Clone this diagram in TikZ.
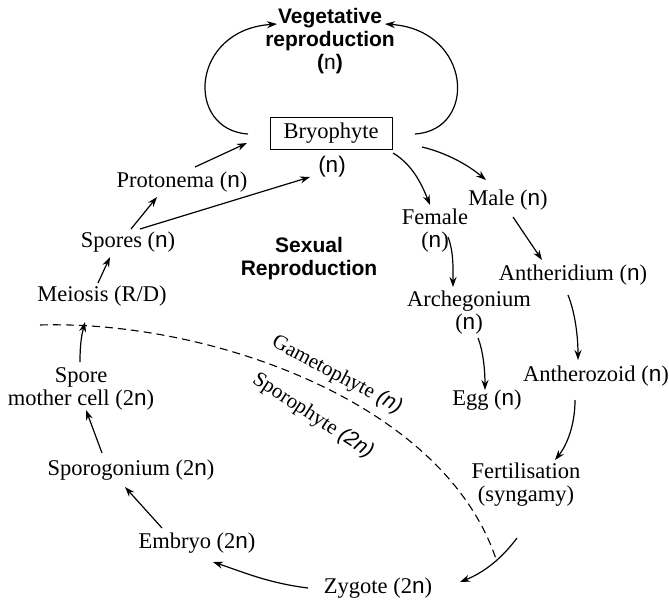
\documentclass[tikz,border=0pt]{standalone}
\usepackage{fontspec}
\setmainfont{Liberation Serif}
\newfontfamily\sansf{Liberation Sans}
\usetikzlibrary{arrows.meta}
\newcommand{\Nsym}{{\sansf n}}
\begin{document}
\begin{tikzpicture}[x=1pt,y=-1pt,
  every node/.style={inner sep=0pt},
  lbl/.style={font=\fontsize{22.5}{23}\selectfont, align=center},
  boldlbl/.style={font=\sansf\bfseries\fontsize{21}{23}\selectfont, align=center},
  rot/.style={font=\fontsize{21}{23}\selectfont},
  arr/.style={-{Stealth[length=10pt,width=7pt]}, line width=1.2pt},
  cut/.style={dash pattern=on 8pt off 5pt, line width=1.1pt}]
\useasboundingbox (0,0) rectangle (669,603);

\node[boldlbl] (veg) at (330,41) {Vegetative\\reproduction\\({\mdseries n})};
\node[lbl, draw, line width=1pt, minimum width=122pt, minimum height=32pt] (bryo) at (331,133) {Bryophyte};
\node[lbl] (bn) at (332,167) {{\sansf(n)}};
\node[lbl] (proto) at (182,182) {Protonema (\Nsym)};
\node[lbl] (spores) at (128,242) {Spores (\Nsym)};
\node[lbl] (meiosis) at (102,296) {Meiosis (R/D)};
\node[lbl] (smc) at (81,389) {Spore\\mother cell (2\Nsym)};
\node[lbl] (sporog) at (131,470) {Sporogonium (2\Nsym)};
\node[lbl] (embryo) at (197,543) {Embryo (2\Nsym)};
\node[lbl] (zygote) at (378,588) {Zygote (2\Nsym)};
\node[lbl] (fert) at (526,485) {Fertilisation\\(syngamy)};
\node[lbl] (anthz) at (596,376) {Antherozoid (\Nsym)};
\node[lbl] (egg) at (487,400) {Egg (\Nsym)};
\node[lbl] (arch) at (469,313) {Archegonium\\(\Nsym)};
\node[lbl] (female) at (435,231) {Female\\(\Nsym)};
\node[lbl] (male) at (508,200) {Male (\Nsym)};
\node[lbl] (anthd) at (573,275) {Antheridium (\Nsym)};
\node[boldlbl] (sexual) at (309,259) {Sexual\\Reproduction};
\node[rot, rotate=-28] (game) at (337,375) {Gametophyte {\sansf\itshape(n)}};
\node[rot, rotate=-33] (sporo) at (313,416) {Sporophyte {\sansf\itshape(2n)}};

% vegetative loops
\draw[arr] ([shift={(-83,1)}]bryo.center) .. controls +(-63,-4) and +(-87,6) .. ([shift={(-53,-17)}]veg.center);
\draw[arr] ([shift={(84,1)}]bryo.center) .. controls +(63,-4) and +(87,6) .. ([shift={(55,-17)}]veg.center);

% left side
\draw[arr] ([shift={(13,-15)}]proto.center) -- ([shift={(-84,10)}]bryo.center);
\draw[arr] ([shift={(12,-13)}]spores.center) -- ([shift={(-22,10)}]bn.center);
\draw[arr] ([shift={(3,-13)}]spores.center) -- ([shift={(-25,15)}]proto.center);
\draw[arr] ([shift={(-4,-13)}]meiosis.center) -- ([shift={(-18,15)}]spores.center);
\draw[arr] ([shift={(-1,-27)}]smc.center) .. controls +(0,-20) and +(-3,12) .. ([shift={(-17,26)}]meiosis.center);
\draw[arr] ([shift={(-29,-17)}]sporog.center) -- ([shift={(5,21)}]smc.center);
\draw[arr] ([shift={(-35,-15)}]embryo.center) -- ([shift={(-6,17)}]sporog.center);
\draw[arr] ([shift={(-70,0)}]zygote.center) .. controls +(-40,-5) and +(30,10) .. ([shift={(16,19)}]embryo.center);

% right side
\draw[arr] ([shift={(62,20)}]bryo.center) .. controls +(20,12) and +(-8,-20) .. ([shift={(-5,-26)}]female.center);
\draw[arr] ([shift={(91,14)}]bryo.center) .. controls +(25,6) and +(-18,-15) .. ([shift={(-22,-20)}]male.center);
\draw[arr] ([shift={(13,6)}]female.center) .. controls +(6,15) and +(0,-15) .. ([shift={(-16,-26)}]arch.center);
\draw[arr] ([shift={(9,25)}]arch.center) .. controls +(6,15) and +(0,-15) .. ([shift={(-2,-10)}]egg.center);
\draw[arr] ([shift={(5,17)}]male.center) -- ([shift={(-31,-15)}]anthd.center);
\draw[arr] ([shift={(-5,20)}]anthd.center) .. controls +(8,20) and +(0,-20) .. ([shift={(-18,-16)}]anthz.center);
\draw[arr] ([shift={(-21,24)}]anthz.center) .. controls +(0,25) and +(12,-15) .. ([shift={(29,-25)}]fert.center);
\draw[arr] ([shift={(-9,53)}]fert.center) .. controls +(-15,20) and +(25,-10) .. ([shift={(82,-6)}]zygote.center);

% dividing line
\coordinate (d0) at (40,325);
\coordinate (d1) at (497,562);
\draw[cut] (d0) .. controls (205,320) and (445,400) .. (d1);
\end{tikzpicture}
\end{document}
